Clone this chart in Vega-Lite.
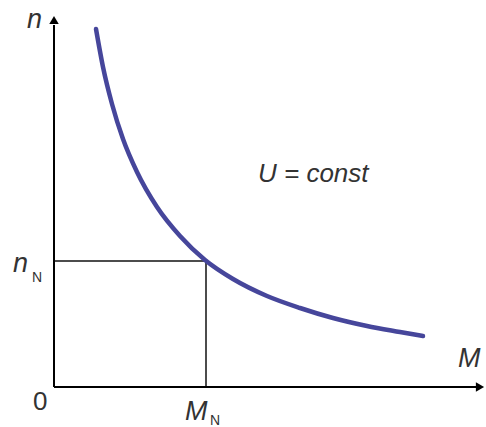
{
  "$schema": "https://vega.github.io/schema/vega-lite/v6.json",
  "width": 486,
  "height": 427,
  "padding": 0,
  "autosize": "none",
  "background": "white",
  "config": {"view": {"stroke": null}},
  "datasets": {
    "curve": [
      {"M": 42, "n": 358},
      {"M": 49, "n": 320},
      {"M": 58, "n": 283},
      {"M": 69, "n": 248},
      {"M": 83, "n": 215},
      {"M": 103, "n": 180},
      {"M": 126, "n": 151},
      {"M": 151, "n": 127},
      {"M": 179, "n": 108},
      {"M": 213, "n": 91},
      {"M": 246, "n": 79},
      {"M": 279, "n": 69},
      {"M": 313, "n": 61},
      {"M": 346, "n": 55},
      {"M": 369, "n": 51}
    ],
    "lines": [
      {"kind": "axis", "M": 0, "n": 0, "M2": 0, "n2": 362},
      {"kind": "axis", "M": 0, "n": 0, "M2": 424, "n2": 0},
      {"kind": "guide", "M": 0, "n": 126, "M2": 152, "n2": 126},
      {"kind": "guide", "M": 152, "n": 0, "M2": 152, "n2": 126}
    ],
    "arrows": [
      {"axis": "n", "M": 0, "n": 367},
      {"axis": "M", "M": 426, "n": 0}
    ],
    "labels": [
      {"role": "main", "M": -27, "n": 359, "text": "n"},
      {"role": "main", "M": -41, "n": 115, "text": "n"},
      {"role": "main", "M": 131, "n": -33, "text": "M"},
      {"role": "main", "M": 404, "n": 20, "text": "M"},
      {"role": "sub", "M": -22, "n": 105, "text": "N"},
      {"role": "sub", "M": 156, "n": -38, "text": "N"},
      {"role": "zero", "M": -21, "n": -23, "text": "0"},
      {"role": "note", "M": 204, "n": 205, "text": "U = const"}
    ]
  },
  "layer": [
    {
      "data": {"name": "lines"},
      "transform": [{"filter": "datum.kind === 'guide'"}],
      "mark": {"type": "rule", "color": "#111111", "strokeWidth": 1.5},
      "encoding": {
        "x": {"field": "M", "type": "quantitative", "scale": {"domain": [-54, 432], "nice": false, "zero": false}, "axis": null},
        "y": {"field": "n", "type": "quantitative", "scale": {"domain": [-40, 387], "nice": false, "zero": false}, "axis": null},
        "x2": {"field": "M2"},
        "y2": {"field": "n2"}
      }
    },
    {
      "data": {"name": "lines"},
      "transform": [{"filter": "datum.kind === 'axis'"}],
      "mark": {"type": "rule", "color": "#000000", "strokeWidth": 2},
      "encoding": {
        "x": {"field": "M", "type": "quantitative", "axis": null},
        "y": {"field": "n", "type": "quantitative", "axis": null},
        "x2": {"field": "M2"},
        "y2": {"field": "n2"}
      }
    },
    {
      "data": {"name": "arrows"},
      "transform": [{"filter": "datum.axis === 'n'"}],
      "mark": {"type": "point", "shape": "triangle-up", "filled": true, "color": "#000000", "size": 90, "opacity": 1},
      "encoding": {
        "x": {"field": "M", "type": "quantitative", "axis": null},
        "y": {"field": "n", "type": "quantitative", "axis": null}
      }
    },
    {
      "data": {"name": "arrows"},
      "transform": [{"filter": "datum.axis === 'M'"}],
      "mark": {"type": "point", "shape": "triangle-right", "filled": true, "color": "#000000", "size": 90, "opacity": 1},
      "encoding": {
        "x": {"field": "M", "type": "quantitative", "axis": null},
        "y": {"field": "n", "type": "quantitative", "axis": null}
      }
    },
    {
      "data": {"name": "curve"},
      "mark": {"type": "line", "color": "#46469b", "strokeWidth": 4.5, "interpolate": "monotone", "strokeCap": "round"},
      "encoding": {
        "x": {"field": "M", "type": "quantitative", "axis": null},
        "y": {"field": "n", "type": "quantitative", "axis": null}
      }
    },
    {
      "data": {"name": "labels"},
      "transform": [{"filter": "datum.role === 'main'"}],
      "mark": {"type": "text", "font": "Liberation Sans", "fontStyle": "italic", "fontSize": 27, "align": "left", "baseline": "alphabetic", "color": "#333333"},
      "encoding": {
        "x": {"field": "M", "type": "quantitative", "axis": null},
        "y": {"field": "n", "type": "quantitative", "axis": null},
        "text": {"field": "text"}
      }
    },
    {
      "data": {"name": "labels"},
      "transform": [{"filter": "datum.role === 'sub'"}],
      "mark": {"type": "text", "font": "Liberation Sans", "fontSize": 14, "align": "left", "baseline": "alphabetic", "color": "#333333"},
      "encoding": {
        "x": {"field": "M", "type": "quantitative", "axis": null},
        "y": {"field": "n", "type": "quantitative", "axis": null},
        "text": {"field": "text"}
      }
    },
    {
      "data": {"name": "labels"},
      "transform": [{"filter": "datum.role === 'zero'"}],
      "mark": {"type": "text", "font": "Liberation Sans", "fontSize": 26, "align": "left", "baseline": "alphabetic", "color": "#333333"},
      "encoding": {
        "x": {"field": "M", "type": "quantitative", "axis": null},
        "y": {"field": "n", "type": "quantitative", "axis": null},
        "text": {"field": "text"}
      }
    },
    {
      "data": {"name": "labels"},
      "transform": [{"filter": "datum.role === 'note'"}],
      "mark": {"type": "text", "font": "Liberation Sans", "fontStyle": "italic", "fontSize": 26, "align": "left", "baseline": "alphabetic", "color": "#333333"},
      "encoding": {
        "x": {"field": "M", "type": "quantitative", "axis": null},
        "y": {"field": "n", "type": "quantitative", "axis": null},
        "text": {"field": "text"}
      }
    }
  ]
}
